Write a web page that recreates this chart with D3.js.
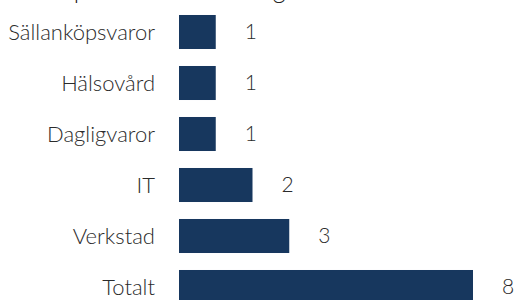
<!DOCTYPE html>
<html><head><meta charset="utf-8">
<script src="https://cdn.jsdelivr.net/npm/d3@7"></script>
<style>body{margin:0;background:#fff}svg{display:block}</style>
</head><body><svg id="c" width="515" height="300"></svg>
<script>
const categories = ["Sällanköpsvaror","Hälsovård","Dagligvaror","IT","Verkstad","Totalt"];
const values = [1,1,1,2,3,8];
const title = "Nu köps aktier inom tunga branscher";

const svg = d3.select("#c");
const font = "Lato, 'Open Sans', sans-serif";
const x = d3.scaleLinear().domain([0,8]).range([179,473]);
const y = d3.scaleBand().domain(categories).range([6.5,312.5]).paddingInner(0.333).paddingOuter(0.1665);

svg.append("text").attr("x",8).attr("y",-2).attr("font-family",font).attr("font-weight",300).attr("font-size",25).attr("letter-spacing",0.3).attr("fill","#222").text(title);

svg.selectAll("rect.bar").data(values).join("rect").attr("class","bar")
  .attr("x",x(0)).attr("y",(d,i)=>y(categories[i]))
  .attr("width",d=>x(d)-x(0)).attr("height",y.bandwidth())
  .attr("fill","#17375e");

svg.selectAll("text.cat").data(categories).join("text").attr("class","cat")
  .attr("x",155).attr("y",d=>y(d)+y.bandwidth()/2).attr("dy","0.35em")
  .attr("text-anchor","end").attr("font-family",font).attr("font-weight",300).attr("font-size",22).attr("fill","#2b2b2b").text(d=>d);

svg.selectAll("text.val").data(values).join("text").attr("class","val")
  .attr("x",d=>x(d)+29).attr("y",(d,i)=>y(categories[i])+y.bandwidth()/2).attr("dy","0.35em")
  .attr("font-family",font).attr("font-weight",300).attr("font-size",21).attr("fill","#2b2b2b").text(d=>d);
</script></body></html>
